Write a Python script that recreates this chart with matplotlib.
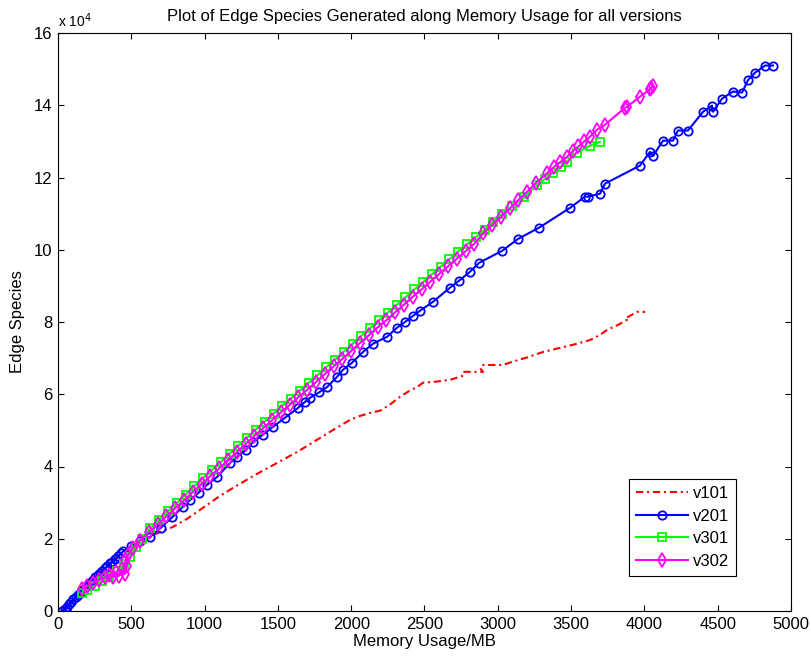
import numpy as np
import matplotlib
matplotlib.use("Agg")
import matplotlib.pyplot as plt

plt.rcParams.update({
    "font.family": ["Liberation Sans", "DejaVu Sans"],
    "font.size": 12,
    "axes.linewidth": 0.8,
    "xtick.direction": "in",
    "ytick.direction": "in",
    "xtick.top": True,
    "ytick.right": True,
    "xtick.major.size": 4,
    "ytick.major.size": 4,
})

# memory usage [MB] and edge species [x 1e4]
MEM_V101 = [40, 100, 200, 300, 400, 500, 560, 648, 785, 880, 969, 1085, 1170, 1262,
            1350, 1446, 1540, 1630, 1700, 1767, 1876, 1992, 2060, 2128, 2200, 2260,
            2333, 2400, 2449, 2490, 2580, 2674, 2756, 2763, 2900, 2880, 2900, 3035,
            3100, 3200, 3308, 3420, 3513, 3629, 3700, 3745, 3820, 3881, 3870, 3950, 4004]
EDGE_V101 = [0.05, 0.3, 0.75, 1.1, 1.45, 1.7, 1.85, 2.1, 2.33, 2.55, 2.8, 3.13, 3.35, 3.57,
             3.78, 3.99, 4.2, 4.4, 4.57, 4.74, 5.01, 5.29, 5.4, 5.48, 5.55, 5.7,
             5.93, 6.1, 6.2, 6.32, 6.35, 6.4, 6.5, 6.62, 6.62, 6.72, 6.81, 6.81,
             6.9, 7.02, 7.17, 7.28, 7.37, 7.5, 7.65, 7.78, 7.92, 8.06, 8.1, 8.28, 8.28]

MEM_V201 = [30, 45, 60, 75, 90, 105, 120, 135, 150, 165, 180, 195, 210, 225, 240, 255,
            270, 285, 300, 320, 335, 355, 370, 390, 410, 430, 445, 500, 560, 628, 700,
            780, 850, 900, 960, 1016, 1085, 1173, 1221, 1280, 1330, 1398, 1467, 1548,
            1637, 1685, 1719, 1780, 1835, 1903, 1944, 2005, 2080, 2149, 2244, 2312,
            2367, 2422, 2469, 2558, 2674, 2735, 2810, 2873, 3029, 3138, 3281, 3493,
            3595, 3615, 3697, 3731, 3970, 4038, 4059, 4127, 4195, 4229, 4297, 4400,
            4461, 4468, 4529, 4604, 4666, 4707, 4754, 4823, 4877]
EDGE_V201 = [0.0, 0.06, 0.12, 0.19, 0.25, 0.32, 0.38, 0.44, 0.5, 0.56, 0.62, 0.68, 0.75,
             0.81, 0.87, 0.93, 0.99, 1.04, 1.1, 1.18, 1.24, 1.32, 1.37, 1.45, 1.52, 1.6,
             1.65, 1.8, 1.95, 2.05, 2.3, 2.6, 2.88, 3.07, 3.28, 3.49, 3.71, 4.1, 4.27,
             4.45, 4.68, 4.88, 5.1, 5.35, 5.62, 5.79, 5.9, 6.05, 6.2, 6.48, 6.68, 6.87,
             7.17, 7.4, 7.59, 7.84, 8.0, 8.17, 8.31, 8.56, 8.95, 9.14, 9.39, 9.64, 9.97,
             10.3, 10.61, 11.16, 11.47, 11.47, 11.55, 11.83, 12.33, 12.71, 12.6, 13.02,
             13.02, 13.3, 13.3, 13.82, 13.99, 13.82, 14.18, 14.38, 14.35, 14.7, 14.9,
             15.1, 15.1]

MEM_V301 = [165, 200, 250, 300, 350, 400, 450, 491, 530, 570, 630, 690, 750, 810, 870,
            930, 990, 1050, 1110, 1170, 1230, 1290, 1350, 1410, 1470, 1530, 1590, 1650,
            1710, 1770, 1830, 1890, 1950, 2010, 2070, 2130, 2190, 2250, 2310, 2370,
            2430, 2490, 2550, 2610, 2670, 2730, 2790, 2850, 2910, 2970, 3030, 3100,
            3180, 3268, 3320, 3377, 3430, 3472, 3540, 3629, 3697]
EDGE_V301 = [0.5, 0.58, 0.7, 0.82, 0.95, 1.1, 1.3, 1.5, 1.78, 2.0, 2.3, 2.52, 2.76, 2.98,
             3.22, 3.45, 3.68, 3.9, 4.12, 4.35, 4.57, 4.8, 5.02, 5.24, 5.46, 5.68, 5.88,
             6.1, 6.32, 6.53, 6.75, 6.96, 7.18, 7.4, 7.62, 7.83, 8.05, 8.26, 8.47, 8.68,
             8.9, 9.1, 9.32, 9.53, 9.74, 9.95, 10.15, 10.35, 10.55, 10.78, 11.0, 11.2,
             11.45, 11.8, 11.95, 12.13, 12.3, 12.44, 12.69, 12.88, 12.99]

MEM_V302 = [165, 200, 240, 280, 320, 350, 375, 395, 415, 435, 455, 470, 460, 480, 510,
            560, 620, 680, 740, 800, 860, 920, 980, 1040, 1100, 1160, 1220, 1280, 1340,
            1400, 1460, 1520, 1580, 1640, 1700, 1760, 1820, 1880, 1940, 2000, 2060,
            2120, 2180, 2240, 2300, 2360, 2420, 2480, 2540, 2600, 2660, 2720, 2780,
            2840, 2900, 2960, 3020, 3083, 3140, 3199, 3260, 3336, 3380, 3424, 3470,
            3510, 3550, 3590, 3629, 3676, 3731, 3868, 3880, 3970, 4040, 4059, 4045]
EDGE_V302 = [0.62, 0.7, 0.78, 0.86, 0.93, 1.0, 0.94, 1.08, 0.97, 1.15, 1.02, 1.25, 1.4,
             1.55, 1.75, 1.95, 2.18, 2.4, 2.62, 2.85, 3.06, 3.3, 3.52, 3.74, 3.95, 4.18,
             4.4, 4.62, 4.85, 5.06, 5.28, 5.5, 5.7, 5.92, 6.12, 6.34, 6.56, 6.77, 6.98,
             7.2, 7.42, 7.63, 7.85, 8.05, 8.27, 8.48, 8.7, 8.9, 9.12, 9.33, 9.54, 9.75,
             9.96, 10.17, 10.45, 10.68, 10.9, 11.15, 11.38, 11.6, 11.85, 12.12, 12.28,
             12.42, 12.57, 12.72, 12.86, 13.0, 13.13, 13.32, 13.46, 13.93, 13.95,
             14.24, 14.45, 14.52, 14.48]

fig = plt.figure(figsize=(8.12, 6.59), dpi=100)
ax = fig.add_axes([58 / 812, 48 / 659, 733 / 812, 578 / 659])

ax.plot(MEM_V101, EDGE_V101, color="#ff0000", lw=1.5, ls=(0, (3.5, 1.8, 1, 1.8)),
        label="v101")
ax.plot(MEM_V201, EDGE_V201, color="#0000ff", lw=1.5, marker="o", ms=6, mfc="none",
        mew=1.3, label="v201")
ax.plot(MEM_V301, EDGE_V301, color="#00ff00", lw=1.5, marker="s", ms=6, mfc="none",
        mew=1.3, label="v301")
ax.plot(MEM_V302, EDGE_V302, color="#ff00ff", lw=1.5, marker="d", ms=7, mfc="none",
        mew=1.3, label="v302")

ax.set_xlim(0, 5000)
ax.set_ylim(0, 16)
ax.set_xticks(np.arange(0, 5001, 500))
ax.set_yticks(np.arange(0, 17, 2))
ax.tick_params(labelsize=12, pad=4)
ax.text(0, 1.006, r"x 10$^{4}$", transform=ax.transAxes, ha="left", va="bottom",
        fontsize=10)

ax.set_xlabel("Memory Usage/MB", labelpad=2)
ax.set_ylabel("Edge Species", labelpad=6)
ax.set_title("Plot of Edge Species Generated along Memory Usage for all versions",
             pad=9, fontsize=12)

leg = ax.legend(loc="lower left", bbox_to_anchor=(0.767, 0.046), numpoints=1,
                handlelength=3.1, fancybox=False, edgecolor="black", fontsize=12,
                borderpad=0.45, labelspacing=0.45, handletextpad=0.3, framealpha=1)
leg.get_frame().set_linewidth(0.8)

fig.savefig("out.png", dpi=100)
